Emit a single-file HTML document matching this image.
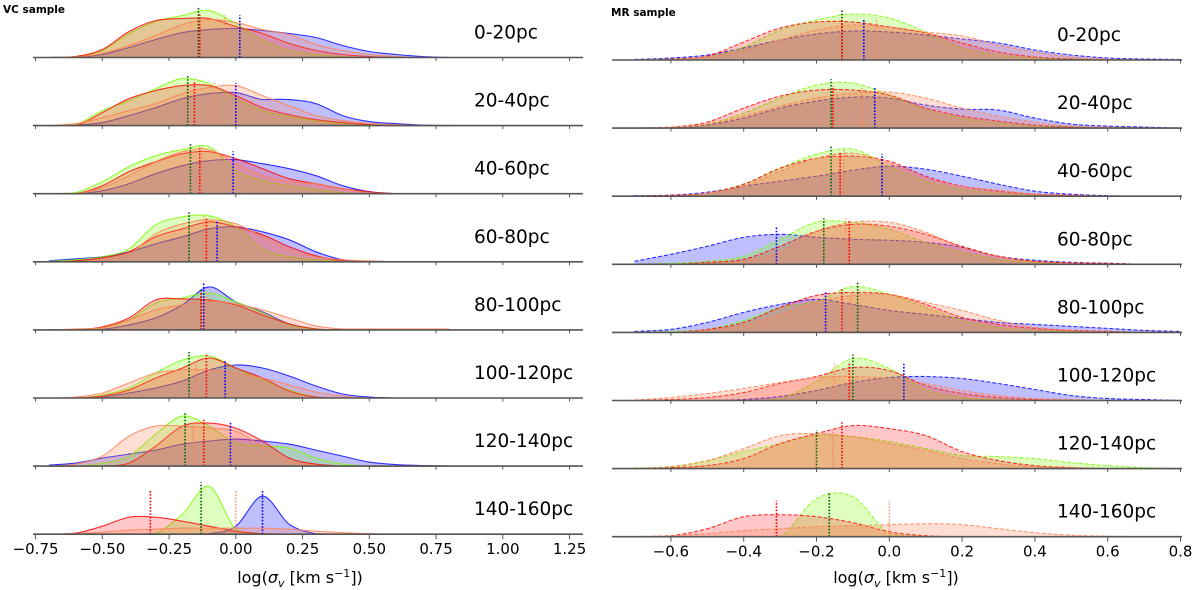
<!DOCTYPE html>
<html><head><meta charset="utf-8"><style>
html,body{margin:0;padding:0;background:#fff;}
svg{display:block;font-family:"DejaVu Sans","Liberation Sans",sans-serif;}
</style></head><body>
<svg id="chart" width="1200" height="590" viewBox="0 0 1200 590" xmlns="http://www.w3.org/2000/svg">
<text x="3" y="13" font-size="10.5" font-weight="bold">VC sample</text>
<text x="611" y="16" font-size="10.5" font-weight="bold">MR sample</text>
<text x="300" y="583" font-size="16" text-anchor="middle">log(<tspan font-style="italic">σ</tspan><tspan font-size="11" dy="4" font-style="italic">v</tspan><tspan dy="-4"> [km s</tspan><tspan font-size="11" dy="-6">−1</tspan><tspan dy="6">])</tspan></text>
<text x="896" y="583" font-size="16" text-anchor="middle">log(<tspan font-style="italic">σ</tspan><tspan font-size="11" dy="4" font-style="italic">v</tspan><tspan dy="-4"> [km s</tspan><tspan font-size="11" dy="-6">−1</tspan><tspan dy="6">])</tspan></text>
</svg>
<script>
const rowLabels = ['0-20pc','20-40pc','40-60pc','60-80pc','80-100pc','100-120pc','120-140pc','140-160pc'];
const gridX = [-0.7,-0.6,-0.5,-0.4,-0.3,-0.2,-0.1,0.0,0.1,0.2,0.3,0.4,0.5,0.6,0.7,0.8];
const vcTicks = [-0.75,-0.5,-0.25,0,0.25,0.5,0.75,1.0,1.25];
const vcTickLabels = ['−0.75','−0.50','−0.25','0.00','0.25','0.50','0.75','1.00','1.25'];
const mrTicks = [-0.6,-0.4,-0.2,0,0.2,0.4,0.6,0.8];
const mrTickLabels = ['−0.6','−0.4','−0.2','0.0','0.2','0.4','0.6','0.8'];

const vcBlue = [
[0,0.5,3,10,18,25,28,29,27,24,20,12,6,3,1,0],
[0,0.5,3,10,18,27,32,33,26,26,22,10,4,2,0.5,0],
[0,0,3,10,20,28,33,34,30,25,18,8,2,0,0,0],
[1,3,5,10,18,25,33,35,30,22,10,2,0,0,0,0],
[0,0,0.5,5,12,25,43,28,18,6,1,0,0,0,0,0],
[0,0,1,5,10,17,28,33,30,22,12,4,1,0,0,0],
[1,3,8,12,16,22,25,27,25,22,16,10,4,1.5,0.5,0],
[0,0,0,0,0,0,0.5,8,38,10,0.5,0,0,0,0,0]];
const vcGreen = [
[0,1,7,24,36,42,47,34,17,7,3,1,0,0,0,0],
[0,1,15,25,37,47,42,27,15,9,5,2,1,0,0,0],
[0,1,12,27,38,44,47,23,13,8,4,1,0,0,0,0],
[0.5,2,5,13,37,45,46,35,13,5,2,0.5,0,0,0,0],
[0,0,2,10,27,32,37,28,17,5,1,0,0,0,0,0],
[0,0,3,10,25,38,42,30,18,8,1,0,0,0,0,0],
[0,0,3,10,32,50,40,23,20,18,8,2,0,0,0,0],
[0,0,0,0,1,20,48,5,0,0,0,0,0,0,0,0]];
const vcRed = [
[0,1,8,26,37,39,39,31,24,14,7,3,1,0,0,0],
[0,0,13,27,35,40,40,30,18,11,6,3,1,0,0,0],
[0,0,8,22,32,40,42,35,25,15,10,5,2,0,0,0],
[0,1,4,10,25,33,40,35,27,15,6,1,0,0,0,0],
[0,0,3,12,30,31,30,25,15,6,1,0,0,0,0,0],
[0,0,2,8,20,30,40,30,20,7,1,0,0,0,0,0],
[0,0,0,3,20,40,43,38,25,8,2,0,0,0,0,0],
[0,1,8,17,17,13,8,3,0.5,0,0,0,0,0,0,0]];
const vcCoral = [
[0,0.5,4,12,22,33,38,35,28,23,13,7,3,1,0,0],
[0,2,8,15,22,32,38,40,30,20,10,5,2,1,0,0],
[0,0,6,18,32,42,44,30,18,12,10,5,1,0,0,0],
[0,0,2,8,28,38,42,38,25,12,5,2,1,0,0,0],
[0,1,2,10,20,25,29,26,20,12,4,1,1,1,1,1],
[0,1,5,15,25,28,28,25,20,13,6,2,0,0,0,0],
[0,2,10,30,40,40,38,35,20,5,1,0,0,0,0,0],
[0,0.5,2,4,5,6,6,6,6,5,3,1.5,0.5,0,0,0]];
const vcMedGreen = [-0.14,-0.18,-0.17,-0.175,-0.13,-0.175,-0.19,-0.13];
const vcMedRed = [-0.135,-0.155,-0.135,-0.11,-0.13,-0.11,-0.12,-0.32];
const vcMedCoral = [-0.04,-0.08,-0.125,-0.12,-0.11,-0.15,-0.16,0.0];
const vcMedBlue = [0.015,0.0,-0.01,-0.07,-0.12,-0.04,-0.02,0.1];

const mrBlue = [
[0.5,2,5,12,20,26,29,28,25,21,17,10,5,2,1,0.5],
[0,0.5,3,10,20,27,31,30,23,19,18,10,4,2,1,0],
[0.5,1,4,10,15,20,26,30,27,20,12,5,2,0.5,0,0],
[3,10,18,27,30,27,25,24,22,17,8,4,2,1,0,0],
[1,3,10,20,28,33,28,22,18,14,10,8,6,4,2,1],
[0,0,0,1,4,10,18,23,24,22,17,11,5,2,1,0],
null,
null];
const mrGreen = [
[0,1,3,13,30,40,46,42,28,12,5,2,1,0,0,0],
[0,1,4,15,30,43,45,33,18,10,5,2,1,0,0,0],
[0,0,3,12,28,42,47,30,15,7,3,1,0,0,0,0],
[0,1,3,8,25,42,42,35,22,12,5,2,0,0,0,0],
[0,1,3,12,25,31,46,38,25,12,5,2,1,0,0,0],
[0,0,0,0,2,19,42,32,11,3,1,0,0,0,0,0],
[0.5,2,8,17,25,33,32,27,20,13,12,10,6,3,1,0],
[0,0,0,0,0,38,40,3,0.5,0,0,0,0,0,0,0]];
const mrRed = [
[0,1,4,18,32,38,38,33,27,17,8,3,1,0,0,0],
[0,1,6,20,32,38,38,33,20,12,7,3,1,0,0,0],
[0,1,3,12,28,38,40,35,20,10,5,2,1,0,0,0],
[0,0,2,5,18,33,40,38,30,18,8,3,1.5,1,0,0],
[0,0,3,10,25,37,40,38,28,15,8,4,2,1,0,0],
[0,1,3,8,17,24,33,30,15,7,3,1,0,0,0,0],
[0,1,3,10,25,35,43,40,33,17,8,3,1,0,0,0],
[0,1,8,20,22,20,14,5,1,0,0,0,0,0,0,0]];
const mrCoral = [
[0,0.5,3,10,20,30,35,33,28,24,15,8,3,1,0,0],
[0,1,4,12,22,30,35,36,30,20,12,6,2,1,0,0],
[0,0,3,10,25,38,43,33,18,10,6,2,1,0,0,0],
[0,0,1,3,12,33,42,42,32,17,8,3,1,0,0,0],
[0,0,2,7,18,30,37,38,30,22,12,5,2,1,0,0],
[0.5,3,7,12,18,23,24,22,17,10,5,2,1,0,0,0],
[0,2,8,20,33,35,32,25,18,10,5,2,1,0,0,0],
[0,1,3,6,8,10,11,12,13,12,8,4,1.5,0.5,0,0]];
const mrMedGreen = [-0.13,-0.16,-0.16,-0.18,-0.087,-0.1,-0.2,-0.165];
const mrMedRed = [-0.13,-0.155,-0.135,-0.11,-0.13,-0.11,-0.13,-0.31];
const mrMedCoral = [-0.035,-0.075,-0.125,-0.12,-0.105,-0.15,-0.155,0.0];
const mrMedBlue = [-0.07,-0.04,-0.02,-0.31,-0.175,0.04,null,null];

const NS = 'http://www.w3.org/2000/svg';
const svg = document.getElementById('chart');
function mk(tag, attrs, parent){
  const e = document.createElementNS(NS, tag);
  for (const k in attrs) e.setAttribute(k, attrs[k]);
  (parent||svg).appendChild(e);
  return e;
}
const colors = {blue:'#0000ff', green:'#7cfc00', red:'#ff0000', coral:'#ff7f50'};
const fillOp = {blue:0.25, green:0.25, red:0.22, coral:0.25};
const medColors = {blue:'#0000ff', green:'#006400', red:'#ff0000', coral:'#ff7f50'};

function smoothPath(pts){
  let d = 'M' + pts[0][0].toFixed(2) + ',' + pts[0][1].toFixed(2);
  for (let i=0;i<pts.length-1;i++){
    const p0 = pts[Math.max(i-1,0)], p1 = pts[i], p2 = pts[i+1], p3 = pts[Math.min(i+2,pts.length-1)];
    const c1x = p1[0]+(p2[0]-p0[0])/6, c1y = p1[1]+(p2[1]-p0[1])/6;
    const c2x = p2[0]-(p3[0]-p1[0])/6, c2y = p2[1]-(p3[1]-p1[1])/6;
    d += 'C'+c1x.toFixed(2)+','+Math.min(c1y, Math.max(p1[1],p2[1])).toFixed(2)+' '+c2x.toFixed(2)+','+Math.min(c2y, Math.max(p1[1],p2[1])).toFixed(2)+' '+p2[0].toFixed(2)+','+p2[1].toFixed(2);
  }
  return d;
}

function drawPanel(cfg){
  const xS = v => cfg.x0 + v*cfg.kx;
  const yBase = i => cfg.y0 + i*cfg.dy;
  const g = mk('g', {});
  
  
  const series = [['blue',cfg.blue,cfg.medBlue],['green',cfg.green,cfg.medGreen],['red',cfg.red,cfg.medRed],['coral',cfg.coral,cfg.medCoral]];
  for (let r=0;r<rowLabels.length;r++){
    const yb = yBase(r);
    const rg = mk('g', {}, g);
    
    
    let rowMax = 0;
    series.forEach(s => { if (s[1][r]) rowMax = Math.max(rowMax, ...s[1][r]); });
    series.forEach(s => {
      const vals = s[1][r];
      if (!vals) return;
      const pts = gridX.map((xv,i) => [xS(xv), yb - vals[i]*cfg.ky]);
      const line = smoothPath(pts);
      const area = line + 'L' + pts[pts.length-1][0].toFixed(2) + ',' + yb + 'L' + pts[0][0].toFixed(2) + ',' + yb + 'Z';
      const a = mk('path', {d: area, fill: colors[s[0]], 'fill-opacity': fillOp[s[0]], stroke: 'none'}, rg);
      
      
      const l = mk('path', {d: line, fill: 'none', stroke: colors[s[0]], 'stroke-width': 1.1, 'stroke-opacity': 0.8, 'stroke-dasharray': cfg.dash}, rg);
      
      
    });
    series.forEach(s => {
      const m = s[2][r];
      if (m === null || m === undefined) return;
      const x = xS(m);
      const ownMax = Math.max(...s[1][r]);
      const h = Math.max(ownMax + 4, rowMax * 0.9);
      const ml = mk('line', {x1: x, x2: x, y1: yb, y2: yb - h*cfg.ky, stroke: medColors[s[0]], 'stroke-width': 1.6, 'stroke-dasharray': '1.6,1.6', 'stroke-opacity': s[0]==='coral'?0.75:1}, rg);
      
      
    });
    const base = mk('line', {x1: cfg.left, x2: cfg.right, y1: yb, y2: yb, stroke: '#555', 'stroke-width': 1.6}, rg);
    
    
    cfg.ticks.forEach(t => {
      const tk = mk('line', {x1: xS(t), x2: xS(t), y1: yb, y2: yb + (r===rowLabels.length-1?5:3.5), stroke: '#555', 'stroke-width': 1}, rg);
      
      
    });
    const lab = mk('text', {x: cfg.labelX, y: yb - 19, 'font-size': 18.5, fill: '#000'}, rg);
    lab.textContent = rowLabels[r];
    
    
  }
  const yb = yBase(rowLabels.length-1);
  cfg.ticks.forEach((t,i) => {
    const tl = mk('text', {x: xS(t), y: yb + 20, 'font-size': 15, 'text-anchor': 'middle'}, g);
    tl.textContent = cfg.tickLabels[i];
    
    
  });
}

drawPanel({name:'vc', x0:235.8, kx:267, y0:57.5, dy:68.1, ky:1, left:33, right:583, labelX:474, dash:'none',
  ticks:vcTicks, tickLabels:vcTickLabels, blue:vcBlue, green:vcGreen, red:vcRed, coral:vcCoral,
  medBlue:vcMedBlue, medGreen:vcMedGreen, medRed:vcMedRed, medCoral:vcMedCoral});
drawPanel({name:'mr', x0:889.3, kx:364, y0:60, dy:68.1, ky:1, left:612, right:1182, labelX:1057, dash:'4,2',
  ticks:mrTicks, tickLabels:mrTickLabels, blue:mrBlue, green:mrGreen, red:mrRed, coral:mrCoral,
  medBlue:mrMedBlue, medGreen:mrMedGreen, medRed:mrMedRed, medCoral:mrMedCoral});
</script>
</body></html>
